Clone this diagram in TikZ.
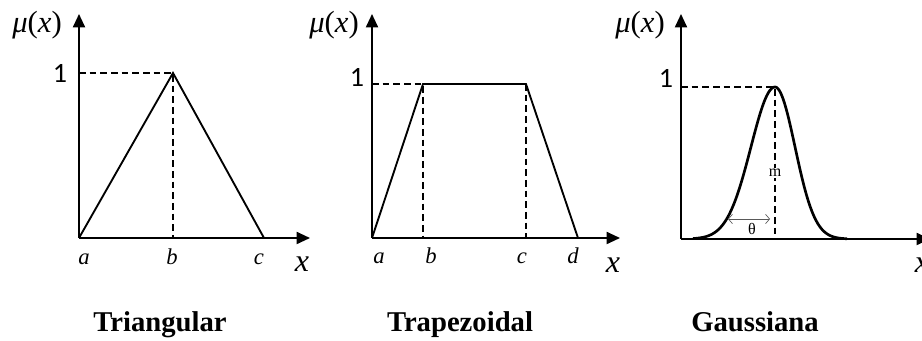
\documentclass[tikz,border=0pt]{standalone}
\usepackage{fontspec}
\setmainfont{Liberation Serif}
\newfontfamily\onefont{Carlito}
\usepackage{tikz}
\usetikzlibrary{arrows.meta, positioning, calc}
\tikzset{
  axisline/.style={
    -{Triangle[length=10pt,width=9pt]}, line width=1.4pt
  },
  mfline/.style={
    line width=1.4pt, line join=miter
  },
  gaussline/.style={
    line width=2pt
  },
  guideline/.style={
    line width=1pt, dash pattern=on 5pt off 3pt
  },
  spreadarrow/.style={
    {Straight Barb[length=3pt,width=7pt]}-{Straight Barb[length=3pt,width=7pt]},
    line width=0.5pt, color=gray!70!black
  },
  mulabel/.style={font=\fontsize{23}{25}\selectfont, inner sep=0pt, anchor=base},
  onelabel/.style={font=\onefont\fontsize{21}{23}\selectfont, inner sep=0pt, anchor=base},
  ticklabel/.style={font=\fontsize{17}{19}\selectfont\itshape, inner sep=0pt, anchor=base},
  axislabel/.style={font=\fontsize{24}{26}\selectfont\itshape, inner sep=0pt, anchor=base},
  smalllabel/.style={font=\fontsize{12}{14}\selectfont, inner sep=1pt},
  titlelabel/.style={font=\fontsize{21.5}{24}\selectfont\bfseries, inner sep=0pt, anchor=base},
}
\newcommand{\muofx}{\textit{μ}(\textit{x})}

\begin{document}
\begin{tikzpicture}[x=0.75pt, y=-0.75pt]
  \useasboundingbox (0,0) rectangle (922,341);

  % Triangular
  \coordinate (o1) at (79,238);
  \coordinate (ytip1) at (79,14);
  \coordinate (xtip1) at (310,238);
  \coordinate (one1) at (79,73);
  \coordinate (peak1) at (173,73);
  \coordinate (foot1) at (173,238);
  \coordinate (end1) at (264,238);
  \draw[guideline] (one1) -- (peak1) -- (foot1);
  \draw[mfline] (o1) -- (peak1) -- (end1);
  \draw[axisline] (o1) -- (ytip1);
  \draw[axisline] (o1) -- (xtip1);
  \node[mulabel] (mu1) at (37,33) {\muofx};
  \node[onelabel] (lone1) at (60,83) {1};
  \node[ticklabel] (ta1) at (84,265) {a};
  \node[ticklabel] (tb1) at (172,265) {b};
  \node[ticklabel] (tc1) at (259,265) {c};
  \node[axislabel] (tx1) at (302,272) {x};
  \node[titlelabel] (title1) at (160,332) {Triangular};

  % Trapezoidal
  \coordinate (o2) at (372,238);
  \coordinate (ytip2) at (372,14);
  \coordinate (xtip2) at (620,238);
  \coordinate (one2) at (372,84);
  \coordinate (left2) at (423,84);
  \coordinate (right2) at (526,84);
  \coordinate (footb2) at (423,238);
  \coordinate (footc2) at (526,238);
  \coordinate (end2) at (578,238);
  \draw[guideline] (one2) -- (left2) -- (footb2);
  \draw[guideline] (right2) -- (footc2);
  \draw[mfline] (o2) -- (left2) -- (right2) -- (end2);
  \draw[axisline] (o2) -- (ytip2);
  \draw[axisline] (o2) -- (xtip2);
  \node[mulabel] (mu2) at (334,33) {\muofx};
  \node[onelabel] (lone2) at (357,87) {1};
  \node[ticklabel] (ta2) at (379,264) {a};
  \node[ticklabel] (tb2) at (431,264) {b};
  \node[ticklabel] (tc2) at (522,264) {c};
  \node[ticklabel] (td2) at (573,264) {d};
  \node[axislabel] (tx2) at (613,273) {x};
  \node[titlelabel] (title2) at (460,332) {Trapezoidal};

  % Gaussiana
  \coordinate (o3) at (681,239);
  \coordinate (ytip3) at (681,14);
  \coordinate (xtip3) at (930,239);
  \coordinate (one3) at (681,87);
  \coordinate (peak3) at (775,87);
  \coordinate (foot3) at (775,239);
  \coordinate (sl3) at (728,219);
  \coordinate (sr3) at (770,219);
  \draw[guideline] (one3) -- (peak3) -- (foot3);
  \node[smalllabel, fill=white] (m3) at (775,173) {m};
  \draw[gaussline] plot[domain=-82:0, samples=50, smooth]
      ({775+\x}, {239-152*exp(-(\x)^2/1152)})
    -- plot[domain=0:72, samples=50, smooth]
      ({775+\x}, {239-152*exp(-(\x)^2/800)});
  \draw[spreadarrow] (sl3) -- (sr3);
  \node[smalllabel] (th3) at (752,229) {θ};
  \draw[axisline] (o3) -- (ytip3);
  \draw[axisline] (o3) -- (xtip3);
  \node[mulabel] (mu3) at (640,33) {\muofx};
  \node[onelabel] (lone3) at (666,88) {1};
  \node[axislabel] (tx3) at (922,273) {x};
  \node[titlelabel] (title3) at (755,332) {Gaussiana};
\end{tikzpicture}
\end{document}
